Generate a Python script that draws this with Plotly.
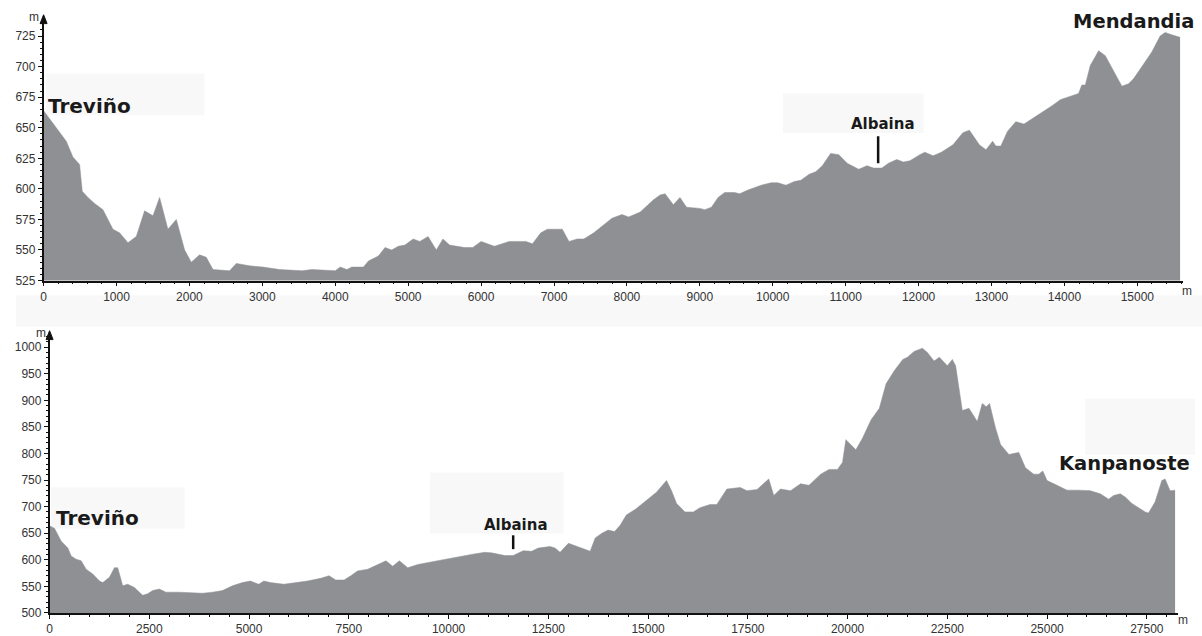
import plotly.graph_objects as go

W, H = 1202, 636

# Stage 1: Treviño -> Mendandia (distance in m, elevation in m)
mend_dist = [0, 197, 311, 402, 494, 530, 608, 700, 814, 951,
             1042, 1157, 1271, 1385, 1500, 1591, 1705, 1820, 1934, 2025,
             2140, 2231, 2323, 2551, 2643, 2826, 3008, 3237, 3545, 3682,
             4000, 4068, 4159, 4227, 4386, 4455, 4523, 4591, 4682, 4773,
             4864, 4955, 5068, 5159, 5273, 5386, 5477, 5568, 5773, 5886,
             6000, 6182, 6386, 6614, 6705, 6818, 6909, 7114, 7205, 7318,
             7409, 7545, 7795, 7932, 8023, 8182, 8364, 8455, 8523, 8636,
             8727, 8818, 9000, 9068, 9159, 9250, 9341, 9477, 9545, 9659,
             9841, 9977, 10068, 10181, 10295, 10385, 10499, 10589, 10680, 10793,
             10906, 11020, 11179, 11292, 11383, 11496, 11587, 11700, 11791, 11881,
             12017, 12085, 12199, 12312, 12471, 12607, 12697, 12833, 12924, 13015,
             13060, 13128, 13218, 13332, 13445, 13604, 13694, 13830, 13944, 14057,
             14193, 14238, 14286, 14354, 14469, 14560, 14674, 14788, 14879, 14947,
             15084, 15198, 15312, 15381, 15472, 15586]
mend_elev = [664, 648, 639, 626, 620, 598, 593, 588, 583, 567,
             564, 556, 561, 582, 578, 593, 567, 575, 550, 540,
             546, 544, 534, 533, 539, 537, 536, 534, 533, 534,
             533, 536, 534, 536, 536, 541, 543, 545, 552, 550,
             553, 554, 559, 557, 561, 550, 559, 554, 552, 552,
             557, 553, 557, 557, 555, 564, 567, 567, 557, 559,
             559, 564, 576, 579, 577, 581, 591, 595, 596, 587,
             593, 585, 584, 583, 585, 593, 597, 597, 596, 599,
             603, 605, 605, 603, 606, 607, 612, 614, 619, 629,
             628, 621, 616, 619, 617, 617, 621, 624, 622, 623,
             628, 630, 627, 630, 636, 646, 648, 636, 632, 639,
             635, 635, 647, 655, 653, 659, 663, 668, 673, 675,
             678, 685, 685, 701, 713, 709, 697, 684, 686, 690,
             702, 712, 725, 728, 726, 724]

# Stage 2: Treviño -> Kanpanoste
kanp_dist = [0, 125, 292, 458, 542, 667, 792, 917, 1083, 1250,
             1333, 1500, 1625, 1708, 1833, 1958, 2125, 2333, 2458, 2583,
             2750, 2917, 3250, 3833, 4083, 4333, 4583, 4833, 5033, 5243,
             5369, 5537, 5872, 6124, 6459, 6794, 7005, 7172, 7382, 7550,
             7718, 7970, 8221, 8431, 8599, 8767, 8976, 9228, 9564, 9899,
             10235, 10571, 10906, 11074, 11409, 11619, 11871, 12081, 12249, 12542,
             12668, 12794, 13004, 13214, 13423, 13549, 13675, 13843, 14000, 14160,
             14300, 14454, 14700, 14960, 15210, 15462, 15588, 15714, 15924, 16134,
             16302, 16554, 16722, 16974, 17310, 17478, 17730, 18024, 18150, 18318,
             18570, 18822, 19032, 19326, 19536, 19746, 19872, 19956, 20208, 20376,
             20586, 20796, 20964, 21174, 21384, 21500, 21667, 21875, 22000, 22167,
             22300, 22500, 22625, 22708, 22833, 22875, 23042, 23250, 23375, 23475,
             23558, 23708, 23833, 24042, 24292, 24458, 24667, 24792, 24892, 25000,
             25250, 25500, 25792, 26083, 26208, 26333, 26542, 26667, 26833, 26958,
             27125, 27458, 27542, 27708, 27875, 27958, 28083, 28208]
kanp_elev = [664, 659, 635, 622, 607, 601, 598, 582, 573, 560,
             557, 567, 585, 585, 551, 554, 548, 533, 536, 542,
             545, 539, 539, 537, 539, 542, 551, 557, 560, 554,
             560, 557, 554, 556, 560, 565, 570, 562, 562, 570,
             579, 582, 591, 598, 588, 598, 585, 591, 596, 601,
             605, 610, 614, 613, 608, 608, 617, 616, 622, 625,
             622, 614, 631, 625, 619, 616, 641, 650, 656, 653,
             665, 684, 696, 711, 727, 749, 730, 706, 690, 690,
             698, 704, 704, 733, 736, 730, 732, 752, 721, 733,
             730, 743, 740, 761, 770, 770, 783, 826, 807, 829,
             863, 885, 931, 956, 977, 981, 992, 998, 990, 974,
             981, 965, 977, 965, 906, 881, 885, 860, 894, 888,
             894, 848, 817, 798, 802, 773, 761, 761, 767, 749,
             740, 731, 731, 730, 727, 724, 714, 721, 724, 718,
             706, 690, 688, 709, 749, 752, 730, 731]

top_xticks = list(range(0, 15001, 1000))
top_yticks = list(range(525, 726, 25))
bot_xticks = list(range(0, 27501, 2500))
bot_yticks = list(range(500, 1001, 50))

# Albaina waypoint (distance along each stage, m)
albaina_top = 11445
albaina_bot = 11619

FILL = "#8f9094"
AXIS = "#111111"
TICKFONT = dict(family="Liberation Sans, Arial, sans-serif", size=12, color="#333333")


def px(x):
    return x / W


def py(y):
    return 1 - y / H


fig = go.Figure()

fig.add_trace(go.Scatter(x=mend_dist, y=mend_elev, mode="lines", fill="tozeroy",
                         fillcolor=FILL, line=dict(color=FILL, width=0.5),
                         xaxis="x", yaxis="y", hoverinfo="x+y", showlegend=False))
fig.add_trace(go.Scatter(x=kanp_dist, y=kanp_elev, mode="lines", fill="tozeroy",
                         fillcolor=FILL, line=dict(color=FILL, width=0.5),
                         xaxis="x2", yaxis="y2", hoverinfo="x+y", showlegend=False))

axis_common = dict(showgrid=False, zeroline=False, showline=True, linecolor=AXIS,
                   linewidth=1.5, ticks="outside", ticklen=4, tickwidth=1,
                   tickcolor=AXIS, tickfont=TICKFONT, tickformat="d",
                   separatethousands=False)

# top panel: 0 m at x=40.7px, 73.1 px per km; 525 m at y=285px, 1.2417 px per m
fig.update_layout(
    xaxis=dict(domain=[px(40.7), px(1183)], range=[0, (1183 - 40.7) / 0.0731],
               anchor="y", tickvals=top_xticks,
               minor=dict(dtick=200, ticks="outside", ticklen=2, tickcolor=AXIS),
               **axis_common),
    yaxis=dict(domain=[py(285), py(21)], range=[525, 525 + (285 - 21) / 1.2417],
               anchor="x", tickvals=top_yticks,
               minor=dict(dtick=5, ticks="outside", ticklen=2, tickcolor=AXIS),
               **axis_common),
    xaxis2=dict(domain=[px(46.7), px(1178)], range=[0, (1178 - 46.7) / 0.04],
                anchor="y2", tickvals=bot_xticks,
                minor=dict(dtick=500, ticks="outside", ticklen=2, tickcolor=AXIS),
                **axis_common),
    yaxis2=dict(domain=[py(622.7), py(341.7)], range=[500, 500 + (622.7 - 341.7) / 0.54],
                anchor="x2", tickvals=bot_yticks,
                minor=dict(dtick=10, ticks="outside", ticklen=2, tickcolor=AXIS),
                **axis_common),
)

shapes = []
# faint label backdrops
for x0, y0, x1, y1 in [(43, 75, 202, 117), (782, 95, 923, 135),
                       (48, 495, 182, 537), (428, 480, 562, 542),
                       (1085, 405, 1195, 462), (13, 300, 1202, 332)]:
    shapes.append(dict(type="rect", xref="paper", yref="paper",
                       x0=px(x0), x1=px(x1), y0=py(y1), y1=py(y0),
                       fillcolor="#f8f8f8", line=dict(width=0), layer="below"))

# axis arrowheads
for ax_x, tip in [(40.7, 15), (46.7, 336)]:
    shapes.append(dict(type="path", xref="paper", yref="paper",
                       path=f"M {px(ax_x - 3.5)},{py(tip + 9)} L {px(ax_x)},{py(tip)} "
                            f"L {px(ax_x + 3.5)},{py(tip + 9)} Z",
                       fillcolor=AXIS, line=dict(color=AXIS, width=1)))

# Albaina markers
shapes.append(dict(type="line", xref="x", yref="y", x0=albaina_top, x1=albaina_top,
                   y0=621, y1=643, line=dict(color="#111111", width=2.5)))
shapes.append(dict(type="line", xref="x2", yref="y2", x0=albaina_bot, x1=albaina_bot,
                   y0=620, y1=646, line=dict(color="#111111", width=2.5)))
fig.update_layout(shapes=shapes)

BOLD = "DejaVu Sans, Verdana, sans-serif"
annotations = [
    dict(text="Treviño", x=px(87), y=py(108), size=20),
    dict(text="Mendandia", x=px(1133), y=py(22), size=19.5),
    dict(text="Albaina", x=px(882), y=py(126), size=15),
    dict(text="Treviño", x=px(95), y=py(526), size=20),
    dict(text="Albaina", x=px(514), y=py(533), size=15),
    dict(text="Kanpanoste", x=px(1124), y=py(471), size=19.5),
]
anns = []
for a in annotations:
    anns.append(dict(text=a["text"], x=a["x"], y=a["y"], xref="paper", yref="paper",
                     xanchor="center", yanchor="middle", showarrow=False,
                     font=dict(family=BOLD, size=a["size"], color="#1a1a1a", weight="bold")))

# unit labels
for t, x, y in [("m", 31, 17), ("m", 1187, 296), ("m", 38, 338), ("m", 1183, 630)]:
    anns.append(dict(text=t, x=px(x), y=py(y), xref="paper", yref="paper",
                     xanchor="center", yanchor="middle", showarrow=False,
                     font=dict(family="Liberation Sans, Arial, sans-serif", size=12,
                               color="#333333")))
fig.update_layout(annotations=anns)

fig.update_layout(width=W, height=H, margin=dict(l=0, r=0, t=0, b=0),
                  paper_bgcolor="white", plot_bgcolor="rgba(0,0,0,0)",
                  showlegend=False)

fig.write_html("out.html")
